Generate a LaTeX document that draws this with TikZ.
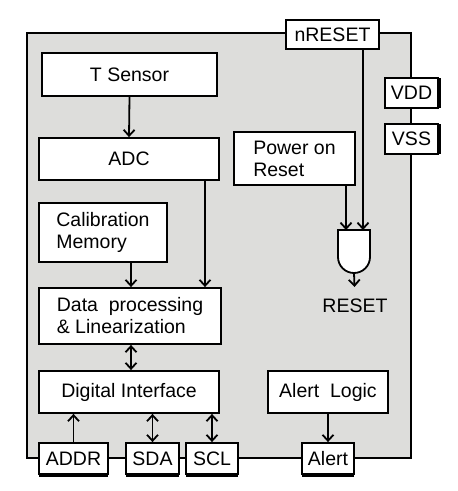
\documentclass[tikz,border=0pt]{standalone}
\usepackage{fontspec}
\setmainfont{Liberation Sans}
\usepackage{tikz}
\usetikzlibrary{arrows.meta}
\usetikzlibrary{shadows}
\definecolor{chipgray}{RGB}{221,221,219}
\tikzstyle{block}=[draw, fill=white, line width=1.8pt, inner sep=0pt, font=\fontsize{19.5}{22}\selectfont]
\tikzstyle{tblock}=[block, align=left]
\tikzstyle{bpin}=[block, minimum height=31pt, drop shadow={shadow xshift=0pt, shadow yshift=-2.5pt, opacity=1, fill=black}]
\tikzstyle{rpin}=[block, minimum width=53pt, minimum height=30pt, drop shadow={shadow xshift=2.5pt, shadow yshift=0pt, opacity=1, fill=black}]
\tikzstyle{sig}=[line width=1.8pt, -{Straight Barb[length=6pt, width=11pt]}]
\tikzstyle{bisig}=[line width=1.8pt, {Straight Barb[length=6pt, width=11pt]}-{Straight Barb[length=6pt, width=11pt]}]

\begin{document}
\begin{tikzpicture}[x=1pt, y=1pt]
        \useasboundingbox (0, 0) rectangle (458, -491);
        \node[draw, fill=chipgray, line width=1.8pt, minimum width=384pt, minimum height=425pt] (chip) at (219, -245.5) {};
        \node[block, minimum width=93pt, minimum height=29pt]   (nreset) at (332.5, -34.5) {nRESET};
        \node[rpin]                                             (vdd) at (411.5, -93) {VDD};
        \node[rpin]                                             (vss) at (411.5, -139) {VSS};
        \node[block, minimum width=175pt, minimum height=43pt]  (tsensor) at (129.5, -74.5) {T Sensor};
        \node[block, minimum width=180pt, minimum height=42pt]  (adc) at (129, -159) {ADC};
        \node[tblock, minimum width=121pt, minimum height=53pt] (por) at (294.5, -158.5) {Power on\\Reset};
        \node[tblock, minimum width=128pt, minimum height=59pt] (calib) at (103, -232.5) {Calibration\\Memory};
        \node[tblock, minimum width=182pt, minimum height=56pt] (data) at (130, -316) {Data\ \ processing\\\& Linearization};
        \node[block, minimum width=180pt, minimum height=42pt]  (digital) at (129, -392) {Digital Interface};
        \node[block, minimum width=120pt, minimum height=42pt]  (alertlogic) at (328, -392) {Alert\ \ Logic};
        \node[bpin, minimum width=69pt]                         (addr) at (73.5, -458.5) {ADDR};
        \node[bpin, minimum width=53pt]                         (sda) at (152.5, -458.5) {SDA};
        \node[bpin, minimum width=52pt]                         (scl) at (212, -458.5) {SCL};
        \node[bpin, minimum width=52pt]                         (alert) at (328, -458.5) {Alert};
        % reset gate
        \coordinate (gin1) at (346, -230);
        \coordinate (gin2) at (363, -230);
        \coordinate (gout) at (354, -273);
        \draw[fill=white, line width=1.8pt] (338, -230) -- (370, -230) -- (370, -257) arc (0:-180:16) -- cycle;
        \node[inner sep=0pt, anchor=north, font=\fontsize{19.5}{22}\selectfont] (reset) at (355, -299) {RESET};
        \draw[sig] (tsensor.south) -- (adc.north);
        \draw[sig] ([xshift=76pt]adc.south) -- ([xshift=76pt]adc.south |- data.north);
        \draw[sig] ([xshift=28pt]calib.south) -- ([xshift=28pt]calib.south |- data.north);
        \draw[bisig] ([xshift=1pt]data.south) -- ([xshift=1pt]data.south |- digital.north);
        \draw[sig] (addr.north) -- (addr.north |- digital.south);
        \draw[bisig] (sda.north) -- (sda.north |- digital.south);
        \draw[bisig] (scl.north) -- (scl.north |- digital.south);
        \draw[sig] (alertlogic.south) -- (alert.north);
        \draw[sig] (gin1 |- por.south) -- (gin1);
        \draw[sig] (gin2 |- nreset.south) -- (gin2);
        \draw[sig, shorten >=12pt] (gout) -- (reset.north);
    \end{tikzpicture}
\end{document}
